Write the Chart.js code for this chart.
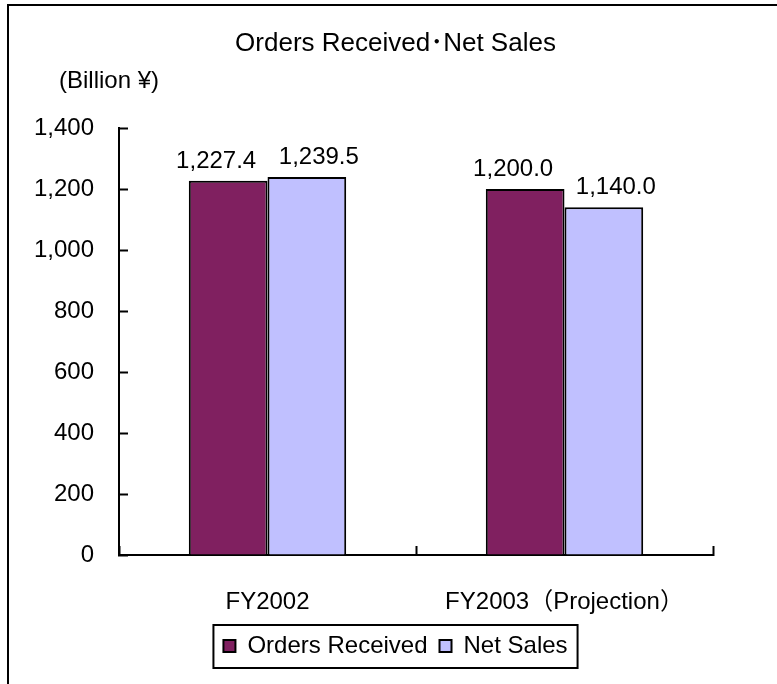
<!DOCTYPE html>
<html>
<head>
<meta charset="utf-8">
<script src="https://cdn.jsdelivr.net/npm/chart.js@4.4.1/dist/chart.umd.min.js"></script>
<style>
  html, body { margin: 0; padding: 0; background: #fff; }
  #frame {
    position: absolute; left: 7px; top: 4px; width: 770px; height: 680px;
    border-left: 2px solid #000; border-top: 2px solid #000;
  }
  #barChart { position: absolute; left: 0; top: 0; }
</style>
</head>
<body>
<div id="frame"></div>
<canvas id="barChart" width="777" height="684"></canvas>
<script>
const categories = ["FY2002", "FY2003（Projection）"];
const seriesNames = ["Orders Received", "Net Sales"];
const ordersReceived = [1227.4, 1200.0];
const netSales = [1239.5, 1140.0];
const yTicks = [0, 200, 400, 600, 800, 1000, 1200, 1400];
const chartTitle = "Orders Received･Net Sales";
const unitLabel = "(Billion ¥)";

const FONT = "'Liberation Sans', Arial, 'Noto Sans CJK JP', sans-serif";
Chart.defaults.font.family = FONT;
Chart.defaults.font.size = 24;
Chart.defaults.color = "#000";

// value labels above the bars, pushed apart a bit like the original
const barLabels = {
  id: "barLabels",
  afterDatasetsDraw(chart) {
    const ctx = chart.ctx;
    ctx.save();
    ctx.font = "24px " + FONT;
    ctx.fillStyle = "#000";
    ctx.textAlign = "center";
    ctx.textBaseline = "alphabetic";
    chart.data.datasets.forEach((ds, di) => {
      const meta = chart.getDatasetMeta(di);
      const shift = di === 0 ? -12 : 12;
      meta.data.forEach((bar, i) => {
        let txt = ds.data[i].toLocaleString("en-US", { minimumFractionDigits: 1, maximumFractionDigits: 1 });
        ctx.fillText(txt, bar.x + shift, bar.y - 13);
      });
    });
    ctx.restore();
  },
};

// unit text + frame round the legend
const extras = {
  id: "extras",
  afterDraw(chart) {
    const ctx = chart.ctx;
    ctx.save();
    ctx.font = "24px " + FONT;
    ctx.fillStyle = "#000";
    ctx.textAlign = "left";
    ctx.textBaseline = "middle";
    ctx.fillText(unitLabel, 59, 81);

    let boxes = chart.legend.legendHitBoxes;
    if (boxes && boxes.length) {
      let left = Math.min(...boxes.map((b) => b.left)) - 10;
      let right = Math.max(...boxes.map((b) => b.left + b.width)) + 10;
      let top = boxes[0].top - 9;
      let bottom = boxes[0].top + boxes[0].height + 10;
      ctx.strokeStyle = "#000";
      ctx.lineWidth = 2;
      ctx.strokeRect(left, top, right - left, bottom - top);
    }
    ctx.restore();
  },
};

const ctx = document.getElementById("barChart").getContext("2d");

const chart = new Chart(ctx, {
  type: "bar",
  data: {
    labels: categories,
    datasets: [
      {
        label: seriesNames[0],
        data: ordersReceived,
        backgroundColor: "#802060",
        borderColor: "#000",
        borderWidth: 2,
        borderSkipped: "bottom",
      },
      {
        label: seriesNames[1],
        data: netSales,
        backgroundColor: "#C0C0FF",
        borderColor: "#000",
        borderWidth: 2,
        borderSkipped: "bottom",
      },
    ],
  },
  options: {
    responsive: false,
    animation: false,
    devicePixelRatio: 1,
    layout: { padding: { left: 14, right: 0, top: 18, bottom: 16 } },
    datasets: { bar: { categoryPercentage: 0.53, barPercentage: 1.0 } },
    scales: {
      x: {
        grid: { drawOnChartArea: false, tickLength: -9, tickColor: "#000", tickWidth: 2 },
        border: { color: "#000", width: 2 },
        ticks: { padding: 42, color: "#000", font: { size: 24 } },
        afterFit: (s) => { s.height = 67; },
      },
      y: {
        min: 0,
        max: 1400,
        grid: { drawOnChartArea: false, tickLength: -9, tickColor: "#000", tickWidth: 2 },
        border: { color: "#000", width: 2 },
        ticks: {
          padding: 34,
          color: "#000",
          font: { size: 24 },
          callback: (v) => v.toLocaleString("en-US"),
        },
        afterBuildTicks: (s) => { s.ticks = yTicks.map((v) => ({ value: v })); },
        afterFit: (s) => { s.width = 105; },
      },
      // empty right-hand box, only keeps the plot clear of the right side
      yRight: {
        position: "right",
        grid: { display: false, drawTicks: false },
        border: { display: false },
        ticks: { display: false },
        afterFit: (s) => { s.width = 64; },
      },
    },
    plugins: {
      title: {
        display: true,
        text: chartTitle,
        color: "#000",
        font: { size: 26, weight: "normal" },
        padding: { top: 10.4, bottom: 68.4 },
      },
      legend: {
        position: "bottom",
        labels: { boxWidth: 12, boxHeight: 12, padding: 12, color: "#000", font: { size: 24 } },
      },
      tooltip: { enabled: false },
    },
  },
  plugins: [barLabels, extras],
});
</script>
</body>
</html>
